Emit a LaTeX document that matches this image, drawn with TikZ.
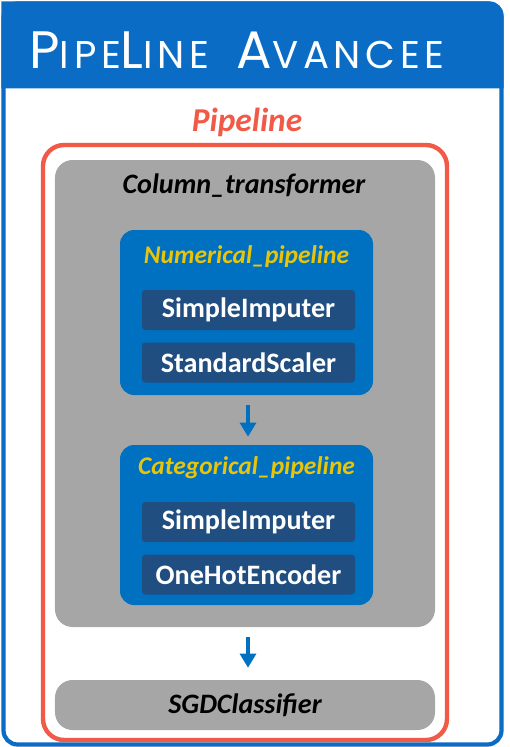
\documentclass[tikz,border=0pt]{standalone}
\usepackage{fontspec}
\setmainfont{Carlito}
\newfontfamily\titlefont{Poppins}[LetterSpace=12]
\usepackage{tikz}
\usetikzlibrary{arrows.meta,positioning,calc}
\definecolor{slideblue}{RGB}{10,108,196}
\definecolor{boxblue}{RGB}{0,112,192}
\definecolor{navybox}{RGB}{32,78,128}
\definecolor{pipered}{RGB}{240,90,70}
\definecolor{ctgray}{RGB}{166,166,166}
\definecolor{stepyellow}{RGB}{232,196,10}
\newcommand{\capbig}[1]{{\fontsize{30}{30}\selectfont #1}}
\newcommand{\capsmall}[1]{{\fontsize{22}{22}\selectfont #1}}

\begin{document}
\begin{tikzpicture}[
    graybox/.style={rectangle, fill=ctgray, rounded corners=10pt,
        minimum width=7.6cm},
    subpipe/.style={rectangle, fill=boxblue, rounded corners=8pt,
        minimum width=5.06cm},
    stepbox/.style={rectangle, fill=navybox, rounded corners=2pt,
        minimum width=4.26cm, minimum height=0.8cm, text=white,
        font=\fontsize{16}{16}\selectfont\bfseries},
    subtitle/.style={text=stepyellow, font=\fontsize{14.5}{15}\selectfont\bfseries\itshape},
    arr/.style={-{Triangle[length=2.8mm,width=3.2mm]}, line width=1.8pt, boxblue}
]
    \useasboundingbox (0,0) rectangle (10.18,-14.94);

    % Slide frame and header
    \node[rectangle, draw=slideblue, line width=2.4pt, rounded corners=8pt,
        minimum width=9.96cm, minimum height=14.82cm] (frame) at (5.05,-7.48) {};
    \fill[slideblue, rounded corners=8pt] (frame.north west) -- (frame.north east)
        [sharp corners] -- ($(frame.north east)+(0,-1.74)$) -- ($(frame.north west)+(0,-1.74)$) -- cycle;
    \node[text=white, font=\titlefont] (title) at (4.74,-1.0)
        {\capbig{P}\capsmall{IPE}\capbig{L}\capsmall{INE}\hspace{0.55cm}\capbig{A}\capsmall{VANCEE}};

    % Pipeline
    \node[text=pipered, font=\fontsize{19}{19}\selectfont\bfseries\itshape] (pipe) at (4.94,-2.44) {Pipeline};
    \node[rectangle, draw=pipered, line width=2.5pt, rounded corners=12pt,
        minimum width=8.08cm, minimum height=11.9cm] (pipebox) at (4.9,-8.85) {};

    % Column transformer
    \node[graybox, minimum height=9.34cm] (ct) at (4.9,-7.87) {};
    \node[font=\fontsize{16}{16}\selectfont\bfseries\itshape] (cttitle) at (4.88,-3.72) {Column\_transformer};

    % Numerical pipeline
    \node[subpipe, minimum height=3.3cm] (num) at (4.93,-6.25) {};
    \node[subtitle] (numtitle) at (4.93,-5.14) {Numerical\_pipeline};
    \node[stepbox] (si1) at (4.97,-6.2) {SimpleImputer};
    \node[stepbox] (ss) at (4.97,-7.25) {StandardScaler};

    % Categorical pipeline
    \node[subpipe, minimum height=3.2cm] (cat) at (4.93,-10.5) {};
    \node[subtitle] (cattitle) at (4.93,-9.36) {Categorical\_pipeline};
    \node[stepbox] (si2) at (4.97,-10.44) {SimpleImputer};
    \node[stepbox] (ohe) at (4.97,-11.49) {OneHotEncoder};
    \draw[arr, shorten <=0.2cm, shorten >=0.16cm] (num.south -| 4.96,0) -- (cat.north -| 4.96,0);

    % Classifier
    \node[graybox, minimum height=1.0cm, font=\fontsize{16}{16}\selectfont\bfseries\itshape] (sgd) at (4.9,-14.1) {SGDClassifier};
    \draw[arr, shorten <=0.2cm, shorten >=0.24cm] (ct.south -| 4.96,0) -- (sgd.north -| 4.96,0);
\end{tikzpicture}
\end{document}
